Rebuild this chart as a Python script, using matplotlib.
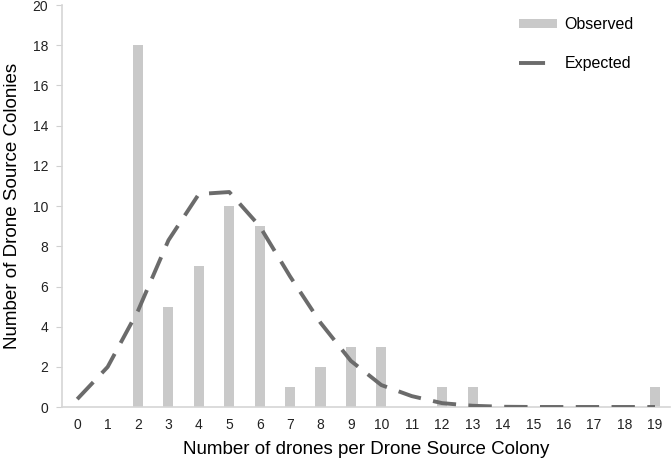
import numpy as np
import matplotlib.pyplot as plt
from matplotlib.lines import Line2D

plt.rcParams['font.family'] = ['Liberation Sans', 'DejaVu Sans']

drones = list(range(20))
observed = [0, 0, 18, 5, 7, 10, 9, 1, 2, 3, 3, 0, 1, 1, 0, 0, 0, 0, 0, 1]
expected = [0.4, 2.0, 4.8, 8.3, 10.6, 10.7, 9.0, 6.5, 4.2, 2.3, 1.1, 0.55,
            0.2, 0.07, 0.02, 0.01, 0.01, 0.01, 0.01, 0.01]

fig = plt.figure(figsize=(6.72, 4.58), dpi=100)
ax = fig.add_axes([0.0923, 0.111, 0.905, 0.878])

x = np.array(drones)
bars = ax.bar(x, observed, width=0.33, color='#c9c9c9', label='Observed', zorder=2)
ax.plot(x, expected, color='#6b6b6b', lw=2.8, dashes=(6, 3.2), zorder=3)
# legend shows a single short dash
line_key = Line2D([], [], color='#6b6b6b', lw=2.8, dashes=(6.7, 10))

ax.set_xlim(-0.5, 19.5)
ax.set_ylim(0, 20)
ax.set_xticks(x)
ax.set_yticks(range(0, 21, 2))
ax.tick_params(axis='x', length=0, pad=8, labelsize=10, colors='#222222')
ax.tick_params(axis='y', length=4, color='#d0d0d0', pad=6, labelsize=10,
               labelcolor='#222222')
for s in ['top', 'right']:
    ax.spines[s].set_visible(False)
for s in ['left', 'bottom']:
    ax.spines[s].set_color('#d6d6d6')
    ax.spines[s].set_linewidth(1.2)

ax.set_xlabel('Number of drones per Drone Source Colony', fontsize=13.5,
              labelpad=6)
ax.set_ylabel('Number of Drone Source Colonies', fontsize=13.5, labelpad=8)

ax.legend([bars, line_key], ['Observed', 'Expected'], loc='upper left',
          bbox_to_anchor=(0.728, 1.005), frameon=False,
          fontsize=11.5, labelspacing=1.5, handlelength=2.4, handleheight=0.5,
          handletextpad=0.45)

fig.savefig('out.png', dpi=100)
